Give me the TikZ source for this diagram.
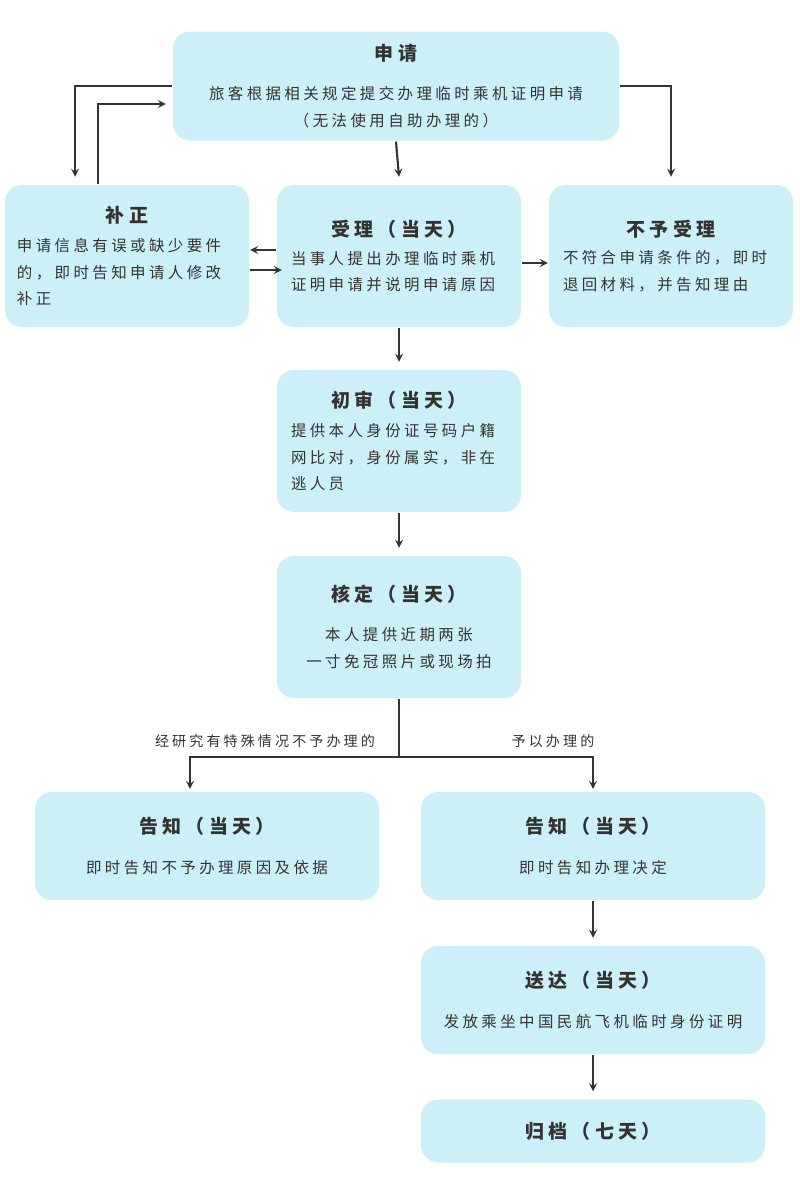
\documentclass[tikz,border=0pt]{standalone}
\usepackage{fontspec}
\setmainfont{Noto Sans CJK SC}[LetterSpace=22]
\usetikzlibrary{positioning}
\definecolor{boxcol}{HTML}{CDEFF8}
\definecolor{inkcol}{HTML}{333333}
\newcommand\boxtext[2]{{\fontsize{13.5}{16}\selectfont\bfseries #1}\\[9pt]#2}

\begin{document}
\begin{tikzpicture}[%
    ->,
    >=stealth,
    line width=1.5pt,
    draw=inkcol,
    text=inkcol,
    every node/.style={font=\fontsize{11}{19}\selectfont},
    stage/.style={%
      fill=boxcol,
      rounded corners=12pt,
      minimum width=6.1cm,
      minimum height=3.55cm,
      align=center
    },
    wide/.style={%
      stage,
      minimum width=8.6cm,
      minimum height=2.7cm
    },
    note/.style={font=\fontsize{10}{12}\selectfont}
  ]
    \useasboundingbox (0,0) rectangle (20,-29.725);

    \node[stage,minimum width=11.15cm,minimum height=2.725cm] (req) at (9.9,-2.15)
      {\boxtext{申请}{旅客根据相关规定提交办理临时乘机证明申请\\（无法使用自助办理的）}};
    \node[stage] (fix) at (3.175,-6.4)
      {\boxtext{补正}{\parbox{5.5cm}{申请信息有误或缺少要件\\的，即时告知申请人修改\\补正}}};
    \node[stage] (acc) at (9.975,-6.4)
      {\boxtext{受理（当天）}{\parbox{5.4cm}{当事人提出办理临时乘机\\证明申请并说明申请原因}}};
    \node[stage] (rej) at (16.775,-6.4)
      {\boxtext{不予受理}{\parbox{5.4cm}{不符合申请条件的，即时\\退回材料，并告知理由}}};
    \node[stage] (pre) at (9.975,-11.025)
      {\boxtext{初审（当天）}{\parbox{5.4cm}{提供本人身份证号码户籍\\网比对，身份属实，非在\\逃人员}}};
    \node[stage] (chk) at (9.975,-15.675)
      {\boxtext{核定（当天）}{本人提供近期两张\\一寸免冠照片或现场拍}};
    \node[wide] (infol) at (5.175,-21.15)
      {\boxtext{告知（当天）}{即时告知不予办理原因及依据}};
    \node[wide] (infor) at (14.825,-21.15)
      {\boxtext{告知（当天）}{即时告知办理决定}};
    \node[wide] (send) at (14.825,-25)
      {\boxtext{送达（当天）}{发放乘坐中国民航飞机临时身份证明}};
    \node[wide,minimum height=1.575cm] (arch) at (14.825,-28.275)
      {{\fontsize{13.5}{16}\selectfont\bfseries 归档（七天）}};

    \draw (req.west) -| ([xshift=-1.3cm,yshift=0.18cm]fix.north);
    \draw ([xshift=-0.725cm]fix.north) |- ([xshift=-0.15cm,yshift=-0.45cm]req.west);
    \draw (req.east) -| ([yshift=0.18cm]rej.north);
    \draw (req.south) -- ([yshift=0.18cm]acc.north);
    \draw ([yshift=0.15cm]acc.west) -- ([yshift=0.15cm]fix.east);
    \draw ([yshift=-0.35cm]fix.east) -- ([xshift=0.15cm,yshift=-0.35cm]acc.west);
    \draw ([yshift=-0.175cm]acc.east) -- ([yshift=-0.175cm]rej.west);
    \draw (acc.south) -- ([yshift=0.18cm]pre.north);
    \draw (pre.south) -- ([yshift=0.18cm]chk.north);

    \draw[-] (chk.south) -- ++(0,-1.45) coordinate (split);
    \draw (split) -| ([xshift=-0.425cm,yshift=0.05cm]infol.north);
    \draw (split) -| ([yshift=0.05cm]infor.north);
    \node[note] (nolabel) at (6.625,-18.525) {经研究有特殊情况不予办理的};
    \node[note] (yeslabel) at (13.825,-18.525) {予以办理的};

    \draw (infor.south) -- ([yshift=0.18cm]send.north);
    \draw (send.south) -- ([yshift=0.18cm]arch.north);
  \end{tikzpicture}
\end{document}
